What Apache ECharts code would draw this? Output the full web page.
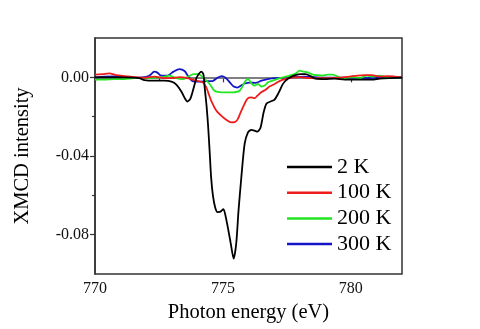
<!DOCTYPE html>
<html>
<head>
<meta charset="utf-8">
<script src="https://cdn.jsdelivr.net/npm/echarts@6/dist/echarts.min.js"></script>
<style>html,body{margin:0;padding:0;background:#fff}#c{width:480px;height:329px}</style>
</head>
<body>
<div id="c"></div>
<script>
// Data
var seriesNames = ['2 K', '100 K', '200 K', '300 K'];
var xTickLabels = [770, 775, 780];
var xMinorTicks = [772.5, 777.5];
var yTickLabels = [-0.08, -0.04, 0.00];
var yMinorTicks = [-0.06, -0.02];

var energy2K = [770.0,770.56,771.15,771.73,771.93,772.32,772.71,772.99,773.18,773.38,773.54,773.61,773.73,773.85,773.97,774.08,774.16,774.24,774.28,774.36,774.42,774.48,774.54,774.61,774.70,774.79,774.91,775.02,775.10,775.19,775.30,775.42,775.52,775.61,775.72,775.85,775.98,776.11,776.24,776.35,776.47,776.59,776.70,776.86,777.02,777.18,777.33,777.49,777.65,777.84,778.04,778.23,778.43,778.62,778.98,779.37,779.76,780.15,780.54,780.82,781.13,781.52,782.0];
var xmcd2K = [0,0,0,-0.0004,-0.0014,-0.0017,-0.0017,-0.0022,-0.0037,-0.0073,-0.0113,-0.0123,-0.0108,-0.0057,-0.0002,0.0021,0.0029,0.0014,-0.0042,-0.0144,-0.0245,-0.0374,-0.0510,-0.0602,-0.0663,-0.0685,-0.0683,-0.0670,-0.0703,-0.0762,-0.0840,-0.0922,-0.0845,-0.0678,-0.0508,-0.0337,-0.0280,-0.0267,-0.0271,-0.0276,-0.0256,-0.0179,-0.0134,-0.0123,-0.0113,-0.0078,-0.0037,-0.0012,0.0001,0.0011,0.0016,0.0016,0.0006,-0.0007,-0.0009,-0.0007,-0.0012,-0.0012,-0.0012,-0.0012,-0.0007,-0.0004,-0.0002];

var energy100K = [770.0,770.29,770.56,770.83,771.15,771.54,771.93,772.32,772.71,772.99,773.30,773.61,773.95,774.21,774.35,774.44,774.54,774.74,774.93,775.13,775.33,775.45,775.57,775.69,775.85,775.96,776.11,776.24,776.35,776.51,776.67,776.82,777.02,777.21,777.45,777.69,778.0,778.40,778.79,779.17,779.57,779.96,780.27,780.54,780.82,781.13,781.44,781.72,782.0];
var xmcd100K = [0.0014,0.0016,0.0020,0.0011,0.0006,0.0001,-0.0002,0.0004,-0.0004,-0.0004,0.0001,-0.0004,-0.0017,-0.0025,-0.0051,-0.0083,-0.0118,-0.0169,-0.0195,-0.0216,-0.0229,-0.0228,-0.0215,-0.0179,-0.0134,-0.0108,-0.0102,-0.0106,-0.0093,-0.0075,-0.0063,-0.0047,-0.0034,-0.0019,-0.0008,-0.0002,0.0001,-0.0004,-0.0004,-0.0004,-0.0002,0.0004,0.0009,0.0011,0.0011,0.0004,0.0006,0.0004,0.0001];

var energy200K = [770.0,770.36,770.76,771.15,771.54,771.93,772.32,772.64,772.91,773.14,773.42,773.65,773.85,774.04,774.28,774.48,774.67,774.87,775.10,775.38,775.65,775.85,775.98,776.12,776.24,776.37,776.51,776.63,776.76,776.94,777.14,777.35,777.61,777.84,778.0,778.16,778.31,778.51,778.71,778.90,779.10,779.29,779.49,779.68,779.88,780.07,780.35,780.62,780.86,781.13,781.37,781.60,782.0];
var xmcd200K = [-0.0012,-0.0012,-0.0009,-0.0009,-0.0004,-0.0004,-0.0002,0.0001,0.0009,-0.0003,-0.0009,0.0004,0.0016,0.0016,-0.0008,-0.0034,-0.0068,-0.0075,-0.0076,-0.0076,-0.0068,-0.0025,-0.0008,-0.0032,-0.0042,-0.0034,-0.0047,-0.0042,-0.0025,-0.0017,-0.0008,0,0.0009,0.0019,0.0034,0.0029,0.0025,0.0014,0.0011,0.0009,0.0014,0.0014,0.0004,-0.0008,-0.0002,0,-0.0004,0.0009,0.0004,0.0009,0.0001,0,-0.0002];

var energy300K = [770.0,770.36,770.76,771.15,771.54,771.93,772.13,772.32,772.44,772.58,772.83,773.07,773.30,773.50,773.65,773.81,774.08,774.36,774.59,774.79,774.95,775.10,775.26,775.42,775.57,775.73,775.89,776.04,776.28,776.51,776.75,777.02,777.41,777.80,778.19,778.59,778.98,779.37,779.76,780.15,780.54,780.94,781.33,781.72,782.0];
var xmcd300K = [0,0.0004,0.0005,0.0001,-0.0002,0.0001,0.0009,0.0029,0.0024,0.0009,0.0009,0.0029,0.0042,0.0032,0.0004,-0.0019,-0.0022,-0.0019,-0.0019,-0.0002,0.0006,-0.0002,-0.0024,-0.0047,-0.0052,-0.0040,-0.0030,-0.0027,-0.0028,-0.0017,-0.0009,-0.0004,-0.0002,0.0001,0.0004,0.0001,-0.0002,-0.0002,-0.0002,-0.0004,-0.0004,-0.0002,0.0001,-0.0002,0.0004];

var colors = ['#000000', '#ee1c1c', '#22e622', '#1414c8'];

function pairs(xs, ys) { return xs.map(function (x, i) { return [x, ys[i]]; }); }

var font = 'Liberation Serif';
var chart = echarts.init(document.getElementById('c'), null, { renderer: 'canvas' });

var energies = [energy2K, energy100K, energy200K, energy300K];
var values = [xmcd2K, xmcd100K, xmcd200K, xmcd300K];

var series = seriesNames.map(function (n, i) {
  return {
    name: n, type: 'line', data: pairs(energies[i], values[i]),
    symbol: 'none', smooth: 0.25, z: 3 + (3 - i),
    lineStyle: { color: colors[i], width: 1.8 },
    itemStyle: { color: colors[i] },
    animation: false
  };
});
series[0].markLine = {
  silent: true, z: 1, symbol: ['none', 'none'], label: { show: false },
  lineStyle: { color: '#8a8a8a', width: 1.5, type: 'solid' },
  data: [{ yAxis: 0 }], animation: false
};

chart.setOption({
  backgroundColor: '#fff',
  animation: false,
  color: colors,
  grid: { left: 95, right: 78, top: 38, bottom: 55, show: true, borderColor: '#333', borderWidth: 1.5, backgroundColor: 'transparent' },
  legend: {
    data: seriesNames.map(function (n) { return { name: n, icon: 'rect' }; }),
    orient: 'vertical', left: 287, top: 156, padding: 0,
    itemWidth: 45, itemHeight: 2.5, itemGap: 3.7,
    textStyle: { fontFamily: font, fontSize: 22, color: '#000', lineHeight: 22 },
    selectedMode: false
  },
  xAxis: [{
    type: 'value', min: 770, max: 782, position: 'bottom',
    name: 'Photon energy (eV)', nameLocation: 'middle', nameGap: 21,
    nameTextStyle: { fontFamily: font, fontSize: 20.5, color: '#000' },
    axisLine: { show: true, lineStyle: { color: '#333', width: 1.5 } },
    axisTick: { show: true, length: 5, customValues: xTickLabels, lineStyle: { color: '#333', width: 1.2 } },
    axisLabel: { customValues: xTickLabels, fontFamily: font, fontSize: 16, color: '#111', margin: 7 },
    splitLine: { show: false }
  }, {
    type: 'value', min: 770, max: 782, position: 'bottom',
    axisLine: { show: false },
    axisTick: { show: true, length: 3, customValues: xMinorTicks, lineStyle: { color: '#333', width: 1.2 } },
    axisLabel: { show: false }, splitLine: { show: false }
  }],
  yAxis: [{
    type: 'value', min: -0.10, max: 0.02, position: 'left',
    name: 'XMCD intensity', nameLocation: 'middle', nameGap: 62,
    nameTextStyle: { fontFamily: font, fontSize: 20.5, color: '#000' },
    axisLine: { show: true, lineStyle: { color: '#333', width: 1.5 } },
    axisTick: { show: true, length: 5, customValues: yTickLabels, lineStyle: { color: '#333', width: 1.2 } },
    axisLabel: { customValues: yTickLabels, fontFamily: font, fontSize: 16, color: '#111', margin: 6,
      formatter: function (v) { return v.toFixed(2); } },
    splitLine: { show: false }
  }, {
    type: 'value', min: -0.10, max: 0.02, position: 'left',
    axisLine: { show: false },
    axisTick: { show: true, length: 3, customValues: yMinorTicks, lineStyle: { color: '#333', width: 1.2 } },
    axisLabel: { show: false }, splitLine: { show: false }
  }],
  series: series
});
</script>
</body>
</html>
